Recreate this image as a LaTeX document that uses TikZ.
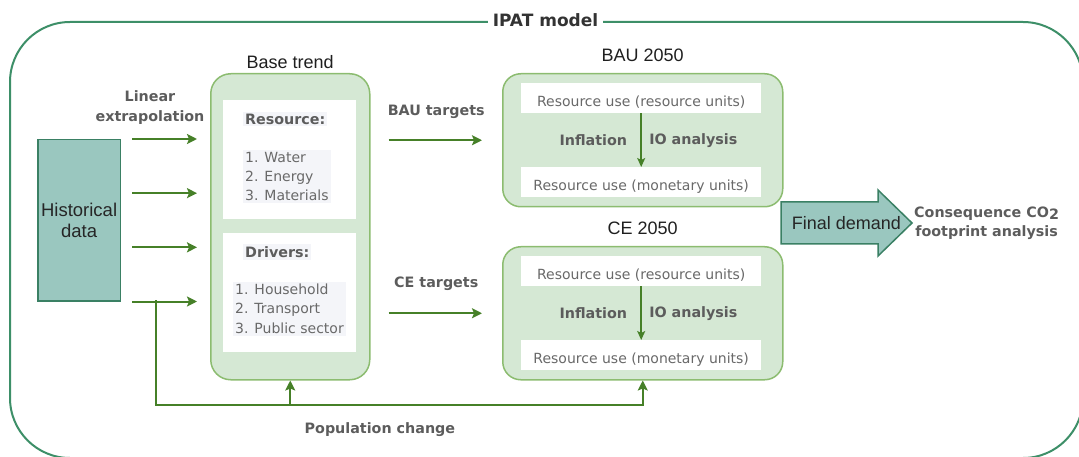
\documentclass[tikz,border=0pt]{standalone}
\usepackage{fontspec}
\setmainfont{Liberation Sans}
\newfontfamily\verd{DejaVu Sans}
\usepackage{xcolor}
\usepackage{tikz}
\usetikzlibrary{arrows.meta, positioning, calc}
\definecolor{framegreen}{RGB}{61,143,104}
\definecolor{boxfill}{RGB}{213,232,212}
\definecolor{boxline}{RGB}{140,188,112}
\definecolor{flowgreen}{RGB}{70,128,40}
\definecolor{tealfill}{RGB}{154,199,191}
\definecolor{tealline}{RGB}{58,128,100}
\definecolor{txtgray}{RGB}{105,105,105}
\definecolor{lblgray}{RGB}{92,92,92}
\definecolor{hilite}{RGB}{244,245,249}
\tikzset{
  frame/.style={draw=framegreen, line width=2pt, rounded corners=60pt},
  stage/.style={draw=boxline, fill=boxfill, line width=1.5pt, rounded corners=20pt, anchor=north west},
  panel/.style={fill=white, inner sep=0pt, anchor=north west},
  unitbox/.style={panel, item, minimum width=240pt, minimum height=30pt, text height=17pt, text depth=0pt},
  source/.style={draw=tealline, fill=tealfill, line width=1.5pt},
  arrow/.style={-{Stealth[length=10pt, width=10pt, inset=2pt]}, line width=2pt, flowgreen},
  convert/.style={-{Stealth[length=9pt, width=8pt, inset=2pt]}, line width=1.5pt, flowgreen},
  title/.style={font=\fontsize{18}{21}\selectfont, text=black!88},
  lbl/.style={font=\verd\bfseries\fontsize{14.3}{19.5}\selectfont, text=lblgray, align=center},
  item/.style={font=\verd\fontsize{14}{19}\selectfont, text=txtgray},
  listbox/.style={item, align=left, fill=hilite, inner sep=2pt, anchor=north west},
  head/.style={lbl, fill=hilite, inner sep=2pt, anchor=west}
}

\begin{document}
\begin{tikzpicture}[x=1pt,y=-1pt]
    \useasboundingbox (0,0) rectangle (1079,457);
    % outer frame of the model
    \draw[frame] (10,22) rectangle (1083,458);
    \node[fill=white, inner sep=5pt, font=\verd\bfseries\fontsize{17}{20}\selectfont, text=black!80] (ipat) at (545.5,20) {IPAT model};

    % historical data and the four feeds
    \node[source, anchor=north west, minimum width=80pt, minimum height=161pt, align=center,
          font=\fontsize{18.5}{21}\selectfont, text=black!85] (hist) at (37,139) {Historical\\data};

    % base trend block
    \node[stage, minimum width=159pt, minimum height=306pt] (base) at (210,73) {};
    \node[title, above=1pt of base] (basettl) {Base trend};
    \node[panel, minimum width=133pt, minimum height=119pt] (resbox) at (223,100) {};
    \node[panel, minimum width=133pt, minimum height=119pt] (drvbox) at (223,233) {};
    \node[head] (reshd) at (243,119) {Resource:};
    \node[listbox] (reslist) at (243,150) {1. Water\\2. Energy\\3. Materials};
    \node[head] (drvhd) at (243,252) {Drivers:};
    \node[listbox, font=\verd\fontsize{14}{19.5}\selectfont] (drvlist) at (233,281.5) {1. Household\\2. Transport\\3. Public sector};

    \foreach \f [count=\i] in {0,0.3333,0.6667,1}{
        \coordinate (h\i) at ($(hist.north east)!\f!(hist.south east)$);
        \draw[arrow, shorten <=11pt, shorten >=13pt] (h\i) -- (h\i -| base.west);
    }
    \node[lbl] (linex) at (150,107.5) {Linear\\extrapolation};

    % scenario blocks
    \node[stage, rounded corners=18pt, minimum width=280pt, minimum height=133pt] (bau) at (502,73) {};
    \node[title, above=8pt of bau] (bauttl) {BAU 2050};
    \node[unitbox] (bauA) at (521,83) {Resource use (resource units)};
    \node[unitbox] (bauB) at (521,167) {Resource use (monetary units)};
    \draw[convert] (bauA) -- node[lbl, left=10pt] {Inflation} node[lbl, right=4pt] {IO analysis} (bauB);

    \node[stage, rounded corners=18pt, minimum width=280pt, minimum height=133pt] (ce) at (502,246) {};
    \node[title, above=8pt of ce] (cettl) {CE 2050};
    \node[unitbox] (ceA) at (521,256) {Resource use (resource units)};
    \node[unitbox] (ceB) at (521,340) {Resource use (monetary units)};
    \draw[convert] (ceA) -- node[lbl, left=10pt] {Inflation} node[lbl, right=4pt] {IO analysis} (ceB);

    \draw[arrow, shorten <=18pt, shorten >=20pt] (base.east |- bau.west) -- node[lbl, above=17pt] {BAU targets} (bau.west);
    \draw[arrow, shorten <=18pt, shorten >=20pt] (base.east |- ce.west) -- node[lbl, above=18pt] {CE targets} (ce.west);

    % population change feedback
    \coordinate (pj) at (156,300);
    \coordinate (pb) at (156,405);
    \draw[arrow] (pj) -- (pb) -| node[lbl, below=13pt, pos=0.23] {Population change} (ce.south);
    \draw[arrow] (base.south |- pb) -- (base.south);

    % final demand
    \draw[source] (781,202) -- (878,202) -- (878,190) -- (912,223) -- (878,256) -- (878,244) -- (781,244) -- cycle;
    \node[font=\fontsize{18}{21}\selectfont, text=black!85] (fd) at (846.5,223) {Final demand};
    \coordinate (fdtip) at (912,223);
    \node[lbl, anchor=west, inner sep=2pt] (cons) at (fdtip) {Consequence CO\raisebox{-2pt}{2}\\footprint analysis};
\end{tikzpicture}
\end{document}
